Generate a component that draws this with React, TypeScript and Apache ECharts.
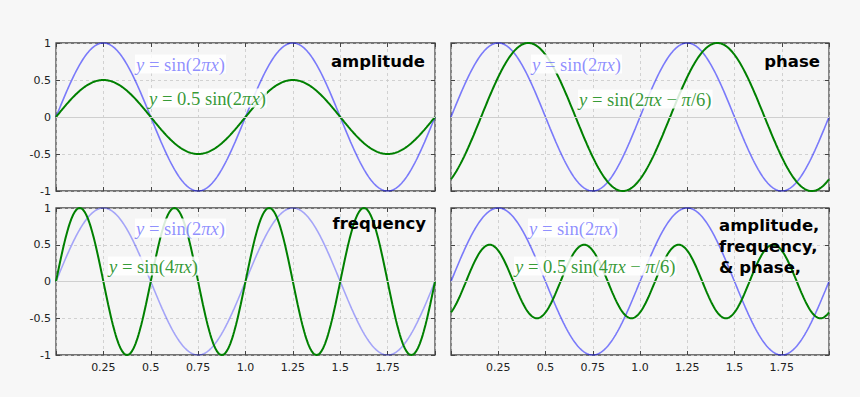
import React, { useEffect, useRef } from "react";
import * as echarts from "echarts";

// ---- data ----
const xTickLabels = ["0.25", "0.5", "0.75", "1.0", "1.25", "1.5", "1.75"];
const yTickLabels = ["-1", "-0.5", "0", "0.5", "1"];
const panelTitles = ["amplitude", "phase", "frequency", "amplitude,\nfrequency,\n& phase,"];

// reference curve y = A sin(2π f x − φ)
const refAmplitude = [1, 1, 1, 1];
const refFrequency = [1, 1, 1, 1];
const refPhase = [0, 0, 0, 0];
const refOpacity = [0.5, 0.5, 0.33, 0.5];
// modified curve
const modAmplitude = [0.5, 1, 1, 0.5];
const modFrequency = [1, 1, 2, 2];
const modPhase = [0, 1, 0, 1];

const refLabels = ["{i|y} = sin(2{i|πx})", "{i|y} = sin(2{i|πx})", "{i|y} = sin(2{i|πx})", "{i|y} = sin(2{i|πx})"];
const modLabels = [
  "{i|y} = 0.5 sin(2{i|πx})",
  "{i|y} = sin(2{i|πx} − {i|π}/6)",
  "{i|y} = sin(4{i|πx})",
  "{i|y} = 0.5 sin(4{i|πx} − {i|π}/6)",
];

const SAMPLES = 400;
const X_MIN = 0;
const X_MAX = 2;

function curve(a: number, f: number, p: number): number[][] {
  const out: number[][] = [];
  for (let k = 0; k <= SAMPLES; k++) {
    const x = X_MIN + ((X_MAX - X_MIN) * k) / SAMPLES;
    out.push([x, a * Math.sin(2 * Math.PI * f * x - p)]);
  }
  return out;
}

// ---- layout ----
const grids = [
  { left: 56, top: 43, width: 379, height: 148 },
  { left: 451, top: 43, width: 378, height: 148 },
  { left: 56, top: 208, width: 379, height: 147 },
  { left: 451, top: 208, width: 378, height: 147 },
];
const refLabelPos = [
  [135, 64],
  [531, 64],
  [135, 228],
  [528, 228],
];
const modLabelPos = [
  [148, 98],
  [578, 99],
  [108, 266],
  [514, 266],
];
const titlePos: [number, number, string][] = [
  [425, 61, "right"],
  [820, 61, "right"],
  [426, 223, "right"],
  [719, 225, "left"],
];

const AXIS_COLOR = "#444";
const MATH_FONT = "Liberation Serif";
const LABEL_FONT = "DejaVu Sans";

export default function App() {
  const ref = useRef<HTMLDivElement>(null);
  useEffect(() => {
    document.body.style.margin = "0";
    document.body.style.background = "#f7f7f7";
    if (!ref.current) return;
    const chart = echarts.init(ref.current, undefined, { renderer: "svg" });

    const xAxis: any[] = [];
    const yAxis: any[] = [];
    const series: any[] = [];
    const graphic: any[] = [];
    const tick = { show: true, inside: true, length: 4, lineStyle: { color: AXIS_COLOR, width: 1 } };
    const noLine = { show: false, onZero: false };

    grids.forEach((g, i) => {
      const isBottom = i >= 2;
      const isLeft = i % 2 === 0;
      xAxis.push({
        type: "value",
        gridIndex: i,
        min: X_MIN,
        max: X_MAX,
        interval: 0.25,
        position: "bottom",
        axisLine: noLine,
        axisTick: tick,
        axisLabel: {
          show: isBottom,
          margin: 7,
          color: "#222",
          fontFamily: LABEL_FONT,
          fontSize: 11,
          formatter: (v: number) => {
            const idx = Math.round(v / 0.25) - 1;
            return xTickLabels[idx] ?? "";
          },
        },
        splitLine: { show: true, lineStyle: { color: "#c8c8c8", type: [3, 3], width: 0.8 } },
      });
      xAxis.push({
        type: "value",
        gridIndex: i,
        min: X_MIN,
        max: X_MAX,
        interval: 0.25,
        position: "top",
        axisLine: noLine,
        axisTick: tick,
        axisLabel: { show: false },
        splitLine: { show: false },
      });
      yAxis.push({
        type: "value",
        gridIndex: i,
        min: -1,
        max: 1,
        interval: 0.5,
        position: "left",
        axisLine: noLine,
        axisTick: tick,
        axisLabel: {
          show: isLeft,
          margin: 5,
          color: "#222",
          fontFamily: LABEL_FONT,
          fontSize: 11,
          formatter: (v: number) => {
            const idx = Math.round((v + 1) / 0.5);
            return yTickLabels[idx] ?? "";
          },
        },
        splitLine: { show: true, lineStyle: { color: "#c8c8c8", type: [3, 3], width: 0.8 } },
      });
      yAxis.push({
        type: "value",
        gridIndex: i,
        min: -1,
        max: 1,
        interval: 0.5,
        position: "right",
        axisLine: noLine,
        axisTick: tick,
        axisLabel: { show: false },
        splitLine: { show: false },
      });

      const xi = i * 2;
      const yi = i * 2;
      series.push({
        type: "line",
        xAxisIndex: xi,
        yAxisIndex: yi,
        data: [],
        silent: true,
        z: 1,
        markLine: {
          silent: true,
          symbol: "none",
          label: { show: false },
          lineStyle: { color: "#cfcfcf", type: "solid", width: 1 },
          data: [{ yAxis: 0 }],
        },
      });
      series.push({
        type: "line",
        xAxisIndex: xi,
        yAxisIndex: yi,
        data: curve(refAmplitude[i], refFrequency[i], refPhase[i]),
        showSymbol: false,
        silent: true,
        z: 2,
        lineStyle: { color: `rgba(0,0,255,${refOpacity[i]})`, width: 1.6 },
      });
      series.push({
        type: "line",
        xAxisIndex: xi,
        yAxisIndex: yi,
        data: curve(modAmplitude[i], modFrequency[i], modPhase[i]),
        showSymbol: false,
        silent: true,
        z: 3,
        lineStyle: { color: "#008000", width: 2 },
      });

      const fs = 18.6;
      const mathStyle = (color: string) => ({
        fill: color,
        fontFamily: MATH_FONT,
        fontSize: fs,
        verticalAlign: "middle",
        align: "left",
        backgroundColor: "rgba(255,255,255,0.85)",
        padding: [0, 1],
        rich: {
          i: { fontStyle: "italic", fill: color, fontFamily: MATH_FONT, fontSize: fs },
        },
      });
      graphic.push({
        type: "text",
        x: refLabelPos[i][0],
        y: refLabelPos[i][1],
        z: 100,
        style: { text: refLabels[i], ...mathStyle("rgba(60,60,255,0.58)") },
      });
      graphic.push({
        type: "text",
        x: modLabelPos[i][0],
        y: modLabelPos[i][1],
        z: 100,
        style: { text: modLabels[i], ...mathStyle("rgba(0,128,0,0.8)") },
      });
      const tp = titlePos[i];
      graphic.push({
        type: "text",
        x: tp[0],
        y: i === 3 ? tp[1] - 10.5 : tp[1],
        z: 101,
        style: {
          text: panelTitles[i],
          fill: "#000",
          fontFamily: LABEL_FONT,
          fontWeight: "bold",
          fontSize: 16.5,
          lineHeight: 21,
          align: tp[2],
          verticalAlign: i === 3 ? "top" : "middle",
        },
      });
    });

    chart.setOption({
      animation: false,
      backgroundColor: "#f7f7f7",
      grid: grids.map((g) => ({
        ...g,
        show: true,
        backgroundColor: "#f5f5f5",
        borderColor: "#4a4a4a",
        borderWidth: 1.3,
        containLabel: false,
      })),
      xAxis,
      yAxis,
      series,
      graphic,
    });
    return () => chart.dispose();
  }, []);
  return <div ref={ref} style={{ width: 860, height: 397 }} />;
}
